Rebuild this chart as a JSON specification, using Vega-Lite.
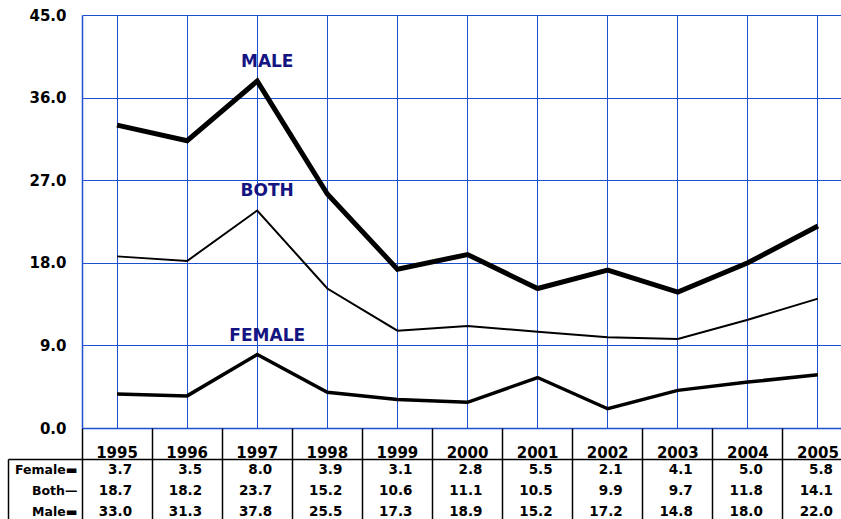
{
  "$schema": "https://vega.github.io/schema/vega-lite/v6.json",
  "width": 759,
  "height": 413,
  "autosize": "none",
  "padding": {"left": 82, "top": 15, "right": 0, "bottom": 91},
  "background": "white",
  "config": {"view": {"stroke": null}, "font": "DejaVu Sans"},
  "data": {"values": [
    {"year": "1995", "series": "FEMALE", "value": 3.7},
    {"year": "1996", "series": "FEMALE", "value": 3.5},
    {"year": "1997", "series": "FEMALE", "value": 8.0},
    {"year": "1998", "series": "FEMALE", "value": 3.9},
    {"year": "1999", "series": "FEMALE", "value": 3.1},
    {"year": "2000", "series": "FEMALE", "value": 2.8},
    {"year": "2001", "series": "FEMALE", "value": 5.5},
    {"year": "2002", "series": "FEMALE", "value": 2.1},
    {"year": "2003", "series": "FEMALE", "value": 4.1},
    {"year": "2004", "series": "FEMALE", "value": 5.0},
    {"year": "2005", "series": "FEMALE", "value": 5.8},
    {"year": "1995", "series": "BOTH", "value": 18.7},
    {"year": "1996", "series": "BOTH", "value": 18.2},
    {"year": "1997", "series": "BOTH", "value": 23.7},
    {"year": "1998", "series": "BOTH", "value": 15.2},
    {"year": "1999", "series": "BOTH", "value": 10.6},
    {"year": "2000", "series": "BOTH", "value": 11.1},
    {"year": "2001", "series": "BOTH", "value": 10.5},
    {"year": "2002", "series": "BOTH", "value": 9.9},
    {"year": "2003", "series": "BOTH", "value": 9.7},
    {"year": "2004", "series": "BOTH", "value": 11.8},
    {"year": "2005", "series": "BOTH", "value": 14.1},
    {"year": "1995", "series": "MALE", "value": 33.0},
    {"year": "1996", "series": "MALE", "value": 31.3},
    {"year": "1997", "series": "MALE", "value": 37.8},
    {"year": "1998", "series": "MALE", "value": 25.5},
    {"year": "1999", "series": "MALE", "value": 17.3},
    {"year": "2000", "series": "MALE", "value": 18.9},
    {"year": "2001", "series": "MALE", "value": 15.2},
    {"year": "2002", "series": "MALE", "value": 17.2},
    {"year": "2003", "series": "MALE", "value": 14.8},
    {"year": "2004", "series": "MALE", "value": 18.0},
    {"year": "2005", "series": "MALE", "value": 22.0}
  ]},
  "resolve": {"scale": {"y": "independent"}, "axis": {"x": "independent", "y": "independent"}},
  "layer": [
    {
      "mark": {"type": "line", "color": "black", "strokeJoin": "miter", "strokeCap": "butt"},
      "encoding": {
        "x": {"field": "year", "type": "ordinal",
          "scale": {"type": "band", "range": [0, 771], "paddingInner": 0, "paddingOuter": 0},
          "axis": {"orient": "bottom", "title": null, "grid": true, "gridColor": "#1f4fd1", "gridWidth": 1, "gridOpacity": 1,
            "bandPosition": 0.5, "ticks": false, "domain": true, "domainColor": "#1f4fd1", "domainWidth": 1.5,
            "labels": true, "labelAngle": 0, "labelFont": "DejaVu Sans", "labelFontWeight": "bold", "labelFontSize": 15,
            "labelColor": "black", "labelPadding": 17, "labelBaseline": "top"}},
        "y": {"field": "value", "type": "quantitative",
          "scale": {"domain": [0, 45], "nice": false, "zero": true},
          "axis": {"title": null, "orient": "left", "values": [0, 9, 18, 27, 36, 45], "format": ".1f",
            "grid": true, "gridColor": "#1f4fd1", "gridWidth": 1, "gridOpacity": 1, "ticks": false,
            "domain": true, "domainColor": "#1f4fd1", "domainWidth": 1.5,
            "labelFont": "DejaVu Sans", "labelFontWeight": "bold", "labelFontSize": 15, "labelColor": "black",
            "labelPadding": 16}},
        "strokeWidth": {"field": "series", "type": "nominal",
          "scale": {"type": "ordinal", "domain": ["FEMALE", "BOTH", "MALE"], "range": [3.5, 2, 5]}, "legend": null}
      }
    },
    {
      "transform": [{"filter": "datum.year == '1997'"}],
      "mark": {"type": "text", "color": "#141482", "font": "DejaVu Sans", "fontWeight": "bold", "fontSize": 17,
        "dx": 10, "dy": -19, "baseline": "middle", "align": "center"},
      "encoding": {
        "x": {"field": "year", "type": "ordinal", "axis": null},
        "y": {"field": "value", "type": "quantitative", "scale": {"domain": [0, 45], "nice": false}, "axis": null},
        "text": {"field": "series"}
      }
    },
    {
      "mark": {"type": "text", "color": "black", "font": "DejaVu Sans", "fontWeight": "bold", "fontSize": 13.5,
        "align": "right", "baseline": "middle", "dx": 15},
      "encoding": {
        "x": {"field": "year", "type": "ordinal",
          "axis": {"orient": "bottom", "title": null, "bandPosition": 0, "grid": false, "domain": false, "labels": false,
            "ticks": true, "tickSize": 91, "tickColor": "black", "tickWidth": 1.5}},
        "y": {"field": "series", "type": "nominal",
          "scale": {"type": "band", "domain": ["FEMALE", "BOTH", "MALE"], "range": [444, 507], "paddingInner": 0, "paddingOuter": 0},
          "axis": {"orient": "left", "title": null, "offset": 74, "bandPosition": 0,
            "domain": true, "domainColor": "black", "domainWidth": 1.5,
            "ticks": true, "tickSize": -74, "tickColor": "black", "tickWidth": 1.5,
            "tickOpacity": {"condition": {"test": "datum.value === 'FEMALE'", "value": 1}, "value": 0},
            "grid": true, "gridColor": "black", "gridWidth": 1.5,
            "gridOpacity": {"condition": {"test": "datum.value === 'FEMALE'", "value": 1}, "value": 0},
            "labelExpr": "datum.label == 'FEMALE' ? 'Female▬' : datum.label == 'BOTH' ? 'Both—' : 'Male▬'",
            "labelFont": "DejaVu Sans", "labelFontWeight": "bold", "labelFontSize": 12.5, "labelColor": "black",
            "labelPadding": 5, "labelAlign": "right", "labelBaseline": "middle"}},
        "text": {"field": "value", "type": "quantitative", "format": ".1f"}
      }
    }
  ]
}
